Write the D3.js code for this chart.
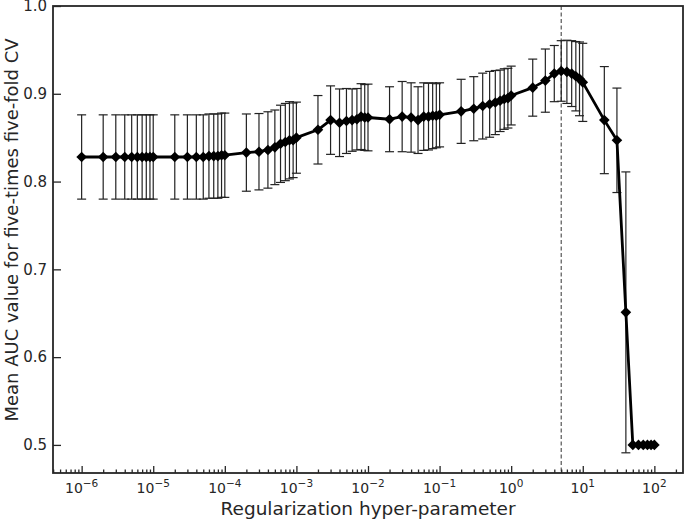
<!DOCTYPE html>
<html>
<head>
<meta charset="utf-8" />
<title>AUC vs regularization</title>
<script src="https://d3js.org/d3.v7.min.js"></script>
<style>
    body { margin: 0; background: #fff; }
    svg { display: block; font-family: "DejaVu Sans", sans-serif; }
    .domain { display: none; }
</style>
</head>
<body>
<svg id="chart" width="685" height="519"></svg>
<script>
// regularization values (x)
var cValues = [
    1e-6, 2e-6, 3e-6, 4e-6, 5e-6, 6e-6, 7e-6, 8e-6, 9e-6,
    1e-5, 2e-5, 3e-5, 4e-5, 5e-5, 6e-5, 7e-5, 8e-5, 9e-5,
    1e-4, 2e-4, 3e-4, 4e-4, 5e-4, 6e-4, 7e-4, 8e-4, 9e-4,
    1e-3, 2e-3, 3e-3, 4e-3, 5e-3, 6e-3, 7e-3, 8e-3, 9e-3,
    1e-2, 2e-2, 3e-2, 4e-2, 5e-2, 6e-2, 7e-2, 8e-2, 9e-2,
    0.1, 0.2, 0.3, 0.4, 0.5, 0.6, 0.7, 0.8, 0.9,
    1, 2, 3, 4, 5, 6, 7, 8, 9,
    10, 20, 30, 40, 50, 60, 70, 80, 90,
    100
];
// mean AUC
var meanAuc = [
    0.828, 0.828, 0.828, 0.828, 0.828, 0.828, 0.828, 0.828, 0.828,
    0.828, 0.828, 0.828, 0.828, 0.828, 0.829, 0.829, 0.829, 0.830,
    0.830, 0.833, 0.834, 0.836, 0.839, 0.843, 0.845, 0.847, 0.847,
    0.850, 0.859, 0.870, 0.867, 0.869, 0.870, 0.871, 0.874, 0.873,
    0.873, 0.871, 0.874, 0.873, 0.870, 0.874, 0.874, 0.875, 0.875,
    0.876, 0.880, 0.883, 0.886, 0.888, 0.890, 0.892, 0.894, 0.895,
    0.898, 0.907, 0.915, 0.923, 0.926, 0.925, 0.923, 0.920, 0.917,
    0.913, 0.870, 0.847, 0.651, 0.500, 0.500, 0.500, 0.500, 0.500,
    0.500
];
// standard deviation (error bars)
var stdAuc = [
    0.048, 0.048, 0.048, 0.048, 0.048, 0.048, 0.048, 0.048, 0.048,
    0.048, 0.048, 0.048, 0.048, 0.048, 0.048, 0.048, 0.048, 0.048,
    0.048, 0.044, 0.0435, 0.0435, 0.0425, 0.044, 0.044, 0.044, 0.0425,
    0.0405, 0.039, 0.039, 0.0385, 0.037, 0.0355, 0.035, 0.0375, 0.0375,
    0.038, 0.037, 0.040, 0.0395, 0.038, 0.0385, 0.038, 0.0375, 0.0365,
    0.0365, 0.0365, 0.0365, 0.0375, 0.0375, 0.0365, 0.035, 0.0345, 0.034,
    0.0335, 0.0325, 0.036, 0.032, 0.0345, 0.036, 0.0375, 0.0395, 0.042,
    0.0445, 0.061, 0.0595, 0.160, 0, 0, 0, 0, 0,
    0
];
var bestC = 5;
var xMajorTicks = [1e-6, 1e-5, 1e-4, 1e-3, 1e-2, 1e-1, 1, 10, 100];
var xTickExp = ['\u22126', '\u22125', '\u22124', '\u22123', '\u22122', '\u22121', '0', '1', '2'];
var yTicks = [0.5, 0.6, 0.7, 0.8, 0.9, 1.0];

var margin = {left: 53, right: 2, top: 6, bottom: 46};
var width = 685 - margin.left - margin.right;
var height = 519 - margin.top - margin.bottom;
var ink = '#262626';

var svg = d3.select('#chart');
var g = svg.append('g')
    .attr('transform', 'translate(' + margin.left + ',' + margin.top + ')');

var x = d3.scaleLog().domain([Math.pow(10, -6.4), Math.pow(10, 2.4)]).range([0, width]);
var y = d3.scaleLinear().domain([0.468, 1.0]).range([height, 0]);

var data = cValues.map(function(c, i) {
    return {c: c, m: meanAuc[i], s: stdAuc[i]};
});

// minor ticks 2..9 x 10^k inside the range
var minorTicks = [];
for (var k = -7; k <= 2; k++) {
    for (var m = 2; m <= 9; m++) {
        var v = m * Math.pow(10, k);
        if (v >= x.domain()[0] && v <= x.domain()[1]) minorTicks.push(v);
    }
}

// dashed line at best parameter
g.append('line')
    .attr('x1', x(bestC)).attr('x2', x(bestC))
    .attr('y1', 0).attr('y2', height)
    .attr('stroke', '#555')
    .attr('stroke-width', 1.2)
    .attr('stroke-dasharray', '4,2.5');

// error bars
var eb = g.append('g').selectAll('g')
    .data(data.filter(function(d) { return d.s > 0; }))
    .enter().append('g')
    .attr('stroke', '#222')
    .attr('stroke-width', 1.2);
eb.append('line')
    .attr('x1', function(d) { return x(d.c); })
    .attr('x2', function(d) { return x(d.c); })
    .attr('y1', function(d) { return y(d.m - d.s); })
    .attr('y2', function(d) { return y(d.m + d.s); });
eb.append('line')
    .attr('x1', function(d) { return x(d.c) - 4.5; })
    .attr('x2', function(d) { return x(d.c) + 4.5; })
    .attr('y1', function(d) { return y(d.m + d.s); })
    .attr('y2', function(d) { return y(d.m + d.s); });
eb.append('line')
    .attr('x1', function(d) { return x(d.c) - 4.5; })
    .attr('x2', function(d) { return x(d.c) + 4.5; })
    .attr('y1', function(d) { return y(d.m - d.s); })
    .attr('y2', function(d) { return y(d.m - d.s); });

// main line
var line = d3.line()
    .x(function(d) { return x(d.c); })
    .y(function(d) { return y(d.m); });
g.append('path')
    .datum(data)
    .attr('d', line)
    .attr('fill', 'none')
    .attr('stroke', '#000')
    .attr('stroke-width', 2.8)
    .attr('stroke-linejoin', 'round');

// diamond markers
g.append('g').selectAll('path')
    .data(data)
    .enter().append('path')
    .attr('d', 'M0,-5.3L5.3,0L0,5.3L-5.3,0Z')
    .attr('transform', function(d) {
        return 'translate(' + x(d.c) + ',' + y(d.m) + ')';
    })
    .attr('fill', '#000');

// axes (ticks pointing inward)
g.append('g')
    .attr('transform', 'translate(0,' + height + ')')
    .call(d3.axisBottom(x).tickValues(minorTicks).tickSize(-3.5).tickFormat(''));
g.append('g')
    .attr('transform', 'translate(0,' + height + ')')
    .call(d3.axisBottom(x).tickValues(xMajorTicks).tickSize(-7).tickFormat(''));
g.append('g')
    .call(d3.axisLeft(y).tickValues(yTicks).tickSize(-8).tickFormat(''));
g.selectAll('.tick line').attr('stroke', ink).attr('stroke-width', 1.3);

// x tick labels with superscripts
var xl = g.append('g').selectAll('text')
    .data(xMajorTicks)
    .enter().append('text')
    .attr('x', function(d) { return x(d); })
    .attr('y', height + 20)
    .attr('text-anchor', 'middle')
    .attr('fill', ink)
    .style('font-size', '14px');
xl.append('tspan').text('10');
xl.append('tspan')
    .attr('dy', -6)
    .style('font-size', '10.5px')
    .text(function(d, i) { return xTickExp[i]; });

// y tick labels
g.append('g').selectAll('text')
    .data(yTicks)
    .enter().append('text')
    .attr('x', -6)
    .attr('y', function(d) { return y(d) + 5.3; })
    .attr('text-anchor', 'end')
    .attr('fill', ink)
    .style('font-size', '15px')
    .text(function(d) { return d3.format('.1f')(d); });

// frame
g.append('rect')
    .attr('width', width).attr('height', height)
    .attr('fill', 'none')
    .attr('stroke', ink)
    .attr('stroke-width', 1.8);

// axis titles
svg.append('text')
    .attr('x', margin.left + width / 2)
    .attr('y', 515)
    .attr('text-anchor', 'middle')
    .attr('fill', ink)
    .style('font-size', '18.5px')
    .text('Regularization hyper-parameter');
svg.append('text')
    .attr('transform', 'translate(18,' + 230 + ') rotate(-90)')
    .attr('text-anchor', 'middle')
    .attr('fill', ink)
    .style('font-size', '18px')
    .text('Mean AUC value for five-times five-fold CV');
</script>
</body>
</html>
